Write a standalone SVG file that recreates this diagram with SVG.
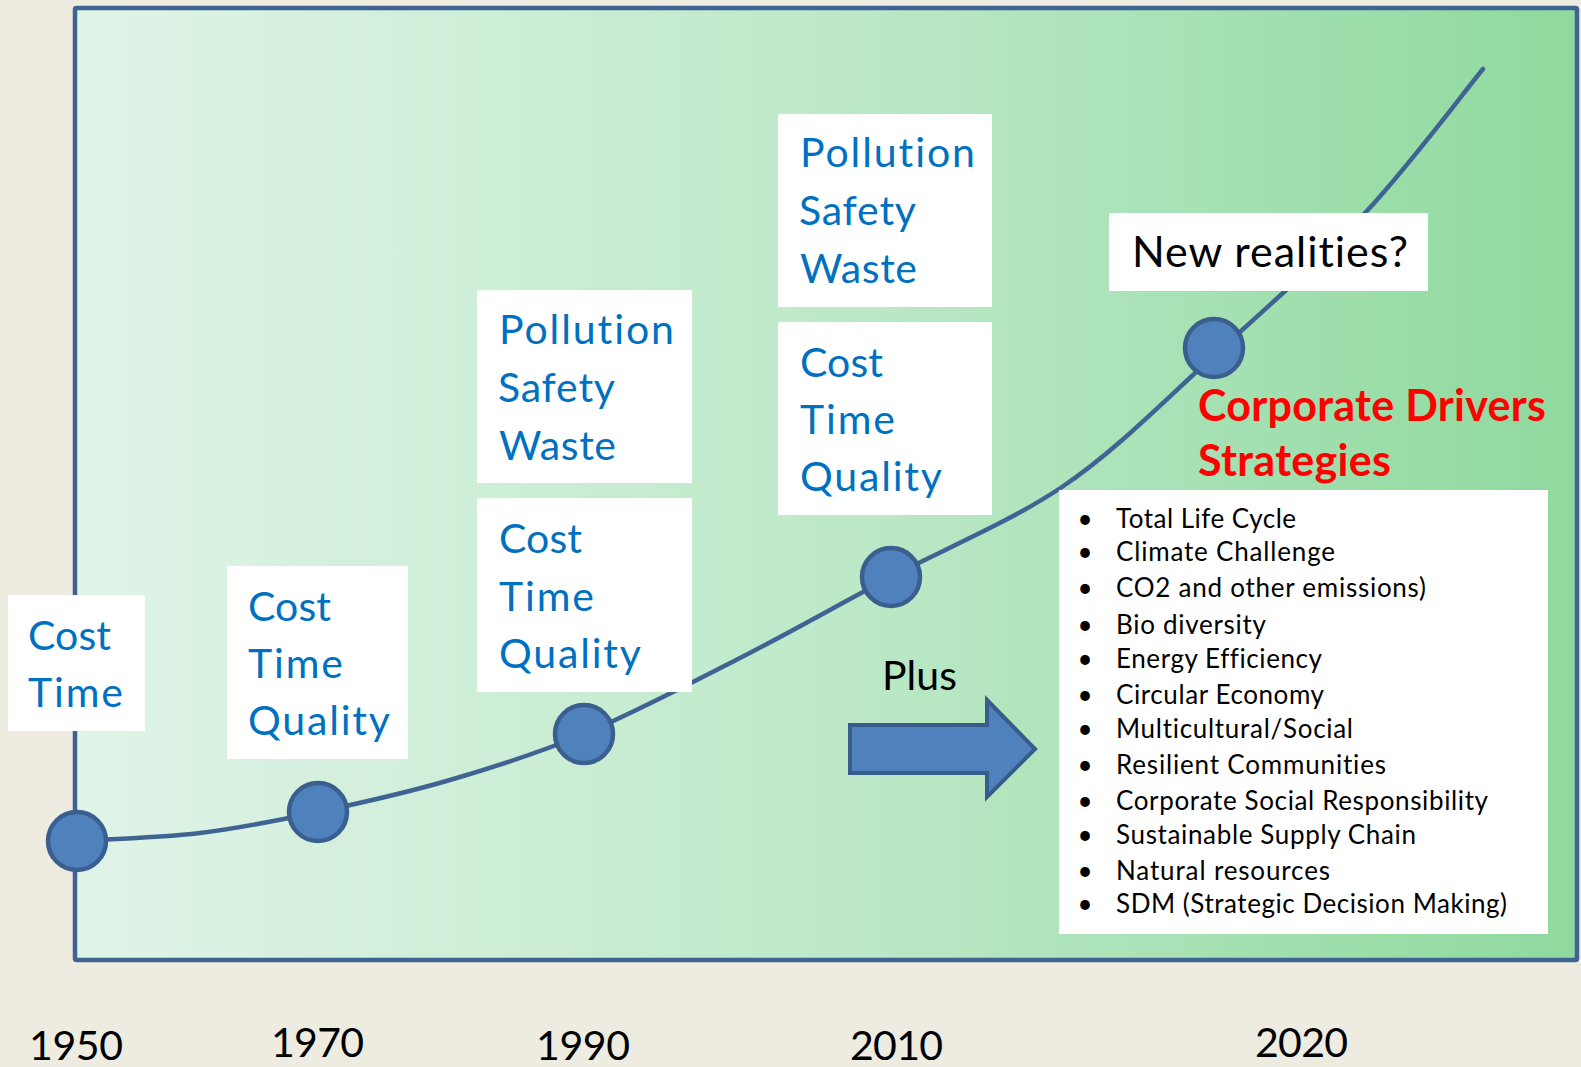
<svg xmlns="http://www.w3.org/2000/svg" width="1581" height="1067" viewBox="0 0 1581 1067">
<defs>
<linearGradient id="bg" x1="75" y1="0" x2="1577" y2="0" gradientUnits="userSpaceOnUse">
<stop offset="0" stop-color="#E0F4E8"/>
<stop offset="0.5" stop-color="#BEE9C9"/>
<stop offset="1" stop-color="#8FD99E"/>
</linearGradient>
<style>
text{font-family:Lato,"Liberation Sans",sans-serif;font-variant-ligatures:none;font-feature-settings:"liga" 0,"clig" 0}
.box{fill:#ffffff}
.blue{font-size:41px;fill:#0070C0}
.blk{fill:#000000}
.yr{font-size:41px}
.dot{fill:#4F81BD;stroke:#3A5F8E;stroke-width:4.5}
.curve{fill:none;stroke:#3F6494;stroke-width:4.5;stroke-linecap:round}
.red{font-size:43px;font-weight:bold;fill:#FF0000}
.li{font-size:26px}
.arrow{fill:#4F81BD;stroke:#385D8A;stroke-width:4;stroke-linejoin:miter}
</style>
</defs>
<rect x="0" y="0" width="1581" height="1067" fill="#EEEBE0"/>
<g id="frame">
<rect x="75" y="8" width="1502" height="952" rx="1.5" fill="url(#bg)" stroke="#3F6494" stroke-width="4.5"/>
</g>
<g id="connectors">
<path class="curve" d="M77,841 C97.5,839.7 159.8,837.8 200,833 C240.2,828.2 276.3,820.8 318,812 C359.7,803.2 405.7,793 450,780 C494.3,767 535.7,754.3 584,734 C632.3,713.7 688.8,684.2 740,658 C791.2,631.8 837.7,605.2 891,577 C944.3,548.8 1008,523 1062,487 C1116,451 1169.2,396 1220,350 C1270.8,304 1321.2,259.8 1365,213 C1408.8,166.2 1463.3,93 1483,69"/>
</g>
<g id="node-1950">
<circle class="dot" cx="77" cy="841" r="29"/>
</g>
<g id="node-1970">
<circle class="dot" cx="318" cy="812" r="29"/>
</g>
<g id="node-1990">
<circle class="dot" cx="584" cy="734" r="29"/>
</g>
<g id="node-2010">
<circle class="dot" cx="891" cy="577" r="29"/>
</g>
<g id="node-2020">
<circle class="dot" cx="1214" cy="348" r="29"/>
</g>
<g id="box-1950">
<rect class="box" x="8" y="595" width="137" height="136"/>
<text class="blue" x="28" y="650" textLength="83" lengthAdjust="spacing">Cost</text>
<text class="blue" x="28" y="707" textLength="95" lengthAdjust="spacing">Time</text>
</g>
<g id="box-1970">
<rect class="box" x="227" y="566" width="181" height="193"/>
<text class="blue" x="248" y="621" textLength="83" lengthAdjust="spacing">Cost</text>
<text class="blue" x="248" y="678" textLength="95" lengthAdjust="spacing">Time</text>
<text class="blue" x="248" y="735" textLength="142" lengthAdjust="spacing">Quality</text>
</g>
<g id="box-1990-new">
<rect class="box" x="477" y="290" width="215" height="193"/>
<text class="blue" x="499" y="344" textLength="175" lengthAdjust="spacing">Pollution</text>
<text class="blue" x="498" y="402" textLength="117" lengthAdjust="spacing">Safety</text>
<text class="blue" x="499" y="460" textLength="117" lengthAdjust="spacing">Waste</text>
</g>
<g id="box-1990-base">
<rect class="box" x="477" y="498" width="215" height="194"/>
<text class="blue" x="499" y="553" textLength="83" lengthAdjust="spacing">Cost</text>
<text class="blue" x="499" y="611" textLength="95" lengthAdjust="spacing">Time</text>
<text class="blue" x="499" y="668" textLength="142" lengthAdjust="spacing">Quality</text>
</g>
<g id="box-2010-new">
<rect class="box" x="778" y="114" width="214" height="193"/>
<text class="blue" x="800" y="167" textLength="175" lengthAdjust="spacing">Pollution</text>
<text class="blue" x="799" y="225" textLength="117" lengthAdjust="spacing">Safety</text>
<text class="blue" x="800" y="283" textLength="117" lengthAdjust="spacing">Waste</text>
</g>
<g id="box-2010-base">
<rect class="box" x="778" y="322" width="214" height="193"/>
<text class="blue" x="800" y="377" textLength="83" lengthAdjust="spacing">Cost</text>
<text class="blue" x="800" y="434" textLength="95" lengthAdjust="spacing">Time</text>
<text class="blue" x="800" y="491" textLength="142" lengthAdjust="spacing">Quality</text>
</g>
<g id="box-new-realities">
<rect class="box" x="1109" y="213" width="319" height="78"/>
<text class="blk" x="1132" y="267" font-size="43" textLength="276" lengthAdjust="spacing">New realities?</text>
</g>
<g id="title-drivers">
<text class="red" x="1198" y="421" textLength="348" lengthAdjust="spacing">Corporate Drivers</text>
<text class="red" x="1198" y="476" textLength="193" lengthAdjust="spacing">Strategies</text>
</g>
<g id="plus-arrow">
<text class="blk" x="882" y="690" font-size="41" textLength="75" lengthAdjust="spacing">Plus</text>
<polygon class="arrow" points="850,725 987,725 987,700 1035,749 987,797 987,773 850,773"/>
</g>
<g id="list-box">
<rect class="box" x="1059" y="490" width="489" height="444"/>
<g class="blk li">
<text x="1085" y="528" text-anchor="middle">•</text>
<text x="1085" y="561" text-anchor="middle">•</text>
<text x="1085" y="597" text-anchor="middle">•</text>
<text x="1085" y="634" text-anchor="middle">•</text>
<text x="1085" y="668" text-anchor="middle">•</text>
<text x="1085" y="704" text-anchor="middle">•</text>
<text x="1085" y="738" text-anchor="middle">•</text>
<text x="1085" y="774" text-anchor="middle">•</text>
<text x="1085" y="810" text-anchor="middle">•</text>
<text x="1085" y="844" text-anchor="middle">•</text>
<text x="1085" y="880" text-anchor="middle">•</text>
<text x="1085" y="913" text-anchor="middle">•</text>
<text x="1116" y="528" textLength="180" lengthAdjust="spacing">Total Life Cycle</text>
<text x="1116" y="561" textLength="219" lengthAdjust="spacing">Climate Challenge</text>
<text x="1116" y="597" textLength="310" lengthAdjust="spacing">CO2 and other emissions)</text>
<text x="1116" y="634" textLength="150" lengthAdjust="spacing">Bio diversity</text>
<text x="1116" y="668" textLength="206" lengthAdjust="spacing">Energy Efficiency</text>
<text x="1116" y="704" textLength="208" lengthAdjust="spacing">Circular Economy</text>
<text x="1116" y="738" textLength="237" lengthAdjust="spacing">Multicultural/Social</text>
<text x="1116" y="774" textLength="270" lengthAdjust="spacing">Resilient Communities</text>
<text x="1116" y="810" textLength="372" lengthAdjust="spacing">Corporate Social Responsibility</text>
<text x="1116" y="844" textLength="300" lengthAdjust="spacing">Sustainable Supply Chain</text>
<text x="1116" y="880" textLength="214" lengthAdjust="spacing">Natural resources</text>
<text x="1116" y="913" textLength="391" lengthAdjust="spacing">SDM (Strategic Decision Making)</text>
</g>
</g>
<g id="years" class="blk">
<text class="yr" x="29" y="1060" textLength="94" lengthAdjust="spacing">1950</text>
<text class="yr" x="271" y="1057" textLength="93" lengthAdjust="spacing">1970</text>
<text class="yr" x="536" y="1060" textLength="94" lengthAdjust="spacing">1990</text>
<text class="yr" x="850" y="1060" textLength="93" lengthAdjust="spacing">2010</text>
<text class="yr" x="1255" y="1057" textLength="93" lengthAdjust="spacing">2020</text>
</g>
</svg>
